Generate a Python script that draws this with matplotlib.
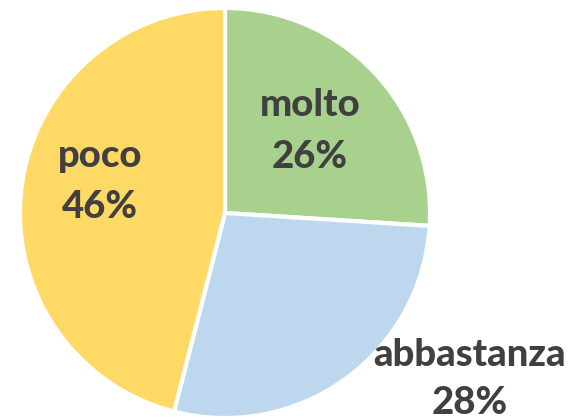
import matplotlib
matplotlib.use("Agg")
import matplotlib.pyplot as plt

categories = ["molto", "abbastanza", "poco"]
values = [26, 28, 46]
colors = ["#A9D18E", "#BDD7EE", "#FFD966"]

W, H = 574, 419
fig = plt.figure(figsize=(W / 100, H / 100), dpi=100)
ax = fig.add_axes([0, 0, 1, 1])

cx, cy, r = 225, H - 213, 205
ax.pie(values, colors=colors, startangle=90, counterclock=False,
       center=(cx, cy), radius=r, frame=True,
       wedgeprops=dict(edgecolor="white", linewidth=3))
ax.set_xlim(0, W)
ax.set_ylim(0, H)
ax.set_aspect("equal")
ax.axis("off")

label_pos = [(310, 105, 157), (470, 355, 403), (100, 156, 207)]
for cat, v, (x, y1, y2) in zip(categories, values, label_pos):
    ax.text(x, H - y1, cat, ha="center", va="center", fontsize=27.5,
            fontweight="black", color="#404040", family="Lato")
    ax.text(x, H - y2, f"{v}%", ha="center", va="center", fontsize=27.5,
            fontweight="black", color="#404040", family="Lato")

fig.savefig("out.png", dpi=100)
